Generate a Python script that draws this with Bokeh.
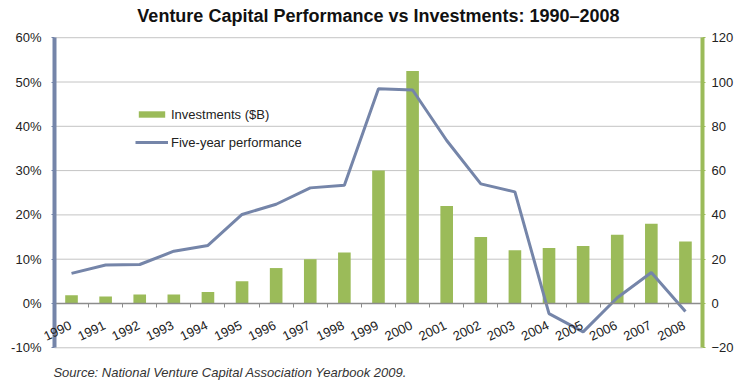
from bokeh.plotting import figure
from bokeh.models import (Range1d, LinearAxis, FixedTicker, Legend, LegendItem,
                          NumeralTickFormatter, ColumnDataSource, LabelSet, Label)
from bokeh.core.properties import value
from bokeh.embed import file_html
from bokeh.resources import INLINE

years = ["1990", "1991", "1992", "1993", "1994", "1995", "1996", "1997", "1998", "1999",
         "2000", "2001", "2002", "2003", "2004", "2005", "2006", "2007", "2008"]
investments = [3.7, 3.2, 4.1, 4.1, 5.2, 10, 16, 20, 23, 60,
               105, 44, 30, 24, 25, 26, 31, 36, 28]
performance = [0.068, 0.087, 0.088, 0.118, 0.131, 0.201, 0.224, 0.261, 0.267, 0.485,
               0.482, 0.368, 0.270, 0.252, -0.023, -0.064, 0.013, 0.070, -0.018]
left_ticks = [-0.1, 0.0, 0.1, 0.2, 0.3, 0.4, 0.5, 0.6]
right_ticks = [-20, 0, 20, 40, 60, 80, 100, 120]

n = len(years)
idx = list(range(n))
src = ColumnDataSource(dict(x=idx, inv=investments, perf=performance, year=years,
                            lx=[i - 0.03 for i in idx], ly=[-0.047] * n))

LINE_C = "#7585A9"
BAR_C = "#9BBB59"
FONT = "Liberation Sans"

W, H = 746, 388
# frame covers the whole canvas; ranges chosen so the axes sit where the reference has them
x_lo, x_hi = -2.082, 19.79
y_lo, y_hi = -0.1919, 0.684

p = figure(width=W, height=H, x_range=Range1d(x_lo, x_hi), y_range=Range1d(y_lo, y_hi),
           output_backend="svg", toolbar_location=None,
           x_axis_location=None, y_axis_location=None,
           min_border_left=0, min_border_right=0, min_border_top=0, min_border_bottom=0)
p.outline_line_color = None
p.background_fill_color = "white"
p.border_fill_color = "white"
p.xgrid.grid_line_color = None
p.ygrid.grid_line_color = None

p.extra_y_ranges = {"inv": Range1d(y_lo * 200, y_hi * 200)}

# horizontal gridlines between the two value axes
p.segment(x0=-0.5, x1=n - 0.5, y0=left_ticks, y1=left_ticks, line_color="#C4C4C4", line_width=1)

# x axis at zero (line + ticks between categories)
xa = LinearAxis(ticker=FixedTicker(ticks=[], minor_ticks=[i - 0.5 for i in range(n + 1)]),
                fixed_location=0, bounds=(-0.5, n - 0.5))
xa.axis_line_color = "#8C8C8C"
xa.axis_line_width = 1.5
xa.major_tick_line_color = None
xa.minor_tick_line_color = "#8C8C8C"
xa.minor_tick_out = 4
xa.minor_tick_in = 0
p.add_layout(xa, "below")

bars = p.vbar(x="x", top="inv", width=0.37, bottom=0, source=src, y_range_name="inv",
              fill_color=BAR_C, line_color=None)

line = p.line(x="x", y="perf", source=src, line_color=LINE_C, line_width=3)

# left axis
ya = LinearAxis(ticker=FixedTicker(ticks=left_ticks), fixed_location=-0.5,
                bounds=(left_ticks[0], left_ticks[-1]))
ya.formatter = NumeralTickFormatter(format="0%")
ya.axis_line_color = LINE_C
ya.axis_line_width = 4
ya.major_tick_line_color = LINE_C
ya.major_tick_out = 3
ya.major_tick_in = 0
ya.minor_tick_line_color = None
ya.major_label_text_font = FONT
ya.major_label_text_font_size = "13px"
ya.major_label_text_color = "#222222"
ya.major_label_standoff = 10
p.add_layout(ya, "left")

# right axis
ra = LinearAxis(y_range_name="inv", ticker=FixedTicker(ticks=right_ticks),
                fixed_location=n - 0.5, bounds=(right_ticks[0], right_ticks[-1]))
ra.axis_line_color = BAR_C
ra.axis_line_width = 4
ra.major_tick_line_color = BAR_C
ra.major_tick_out = 3
ra.major_tick_in = 0
ra.minor_tick_line_color = None
ra.major_label_text_font = FONT
ra.major_label_text_font_size = "13px"
ra.major_label_text_color = "#222222"
ra.major_label_standoff = 6
p.add_layout(ra, "right")

# rotated category labels, right-aligned at each category
labels = LabelSet(x="lx", y="ly", text="year", source=src, angle=0.45, text_align="right",
                  text_baseline="middle", text_font=value(FONT), text_font_size=value("13px"),
                  text_color="#222222")
p.add_layout(labels)

legend = Legend(items=[LegendItem(label="Investments ($B)", renderers=[bars]),
                       LegendItem(label="Five-year performance", renderers=[line])],
                location=(135, 236))
legend.background_fill_alpha = 0
legend.border_line_color = None
legend.glyph_width = 33
legend.glyph_height = 8
legend.label_height = 20
legend.spacing = 8
legend.label_text_font = FONT
legend.label_text_font_size = "13px"
legend.label_text_color = "#222222"
legend.label_standoff = 3
p.add_layout(legend, "center")

title = Label(x=9, y=0.648, text="Venture Capital Performance vs Investments: 1990\u20132008",
              text_align="center", text_baseline="middle", text_font=FONT,
              text_font_size="18px", text_font_style="bold", text_color="#111111")
p.add_layout(title)

source = Label(x=-0.53, y=-0.156, text="Source: National Venture Capital Association Yearbook 2009.",
               text_align="left", text_baseline="middle", text_font=FONT,
               text_font_size="13px", text_font_style="italic", text_color="#333333")
p.add_layout(source)

open("out.html", "w").write(file_html(p, INLINE))
